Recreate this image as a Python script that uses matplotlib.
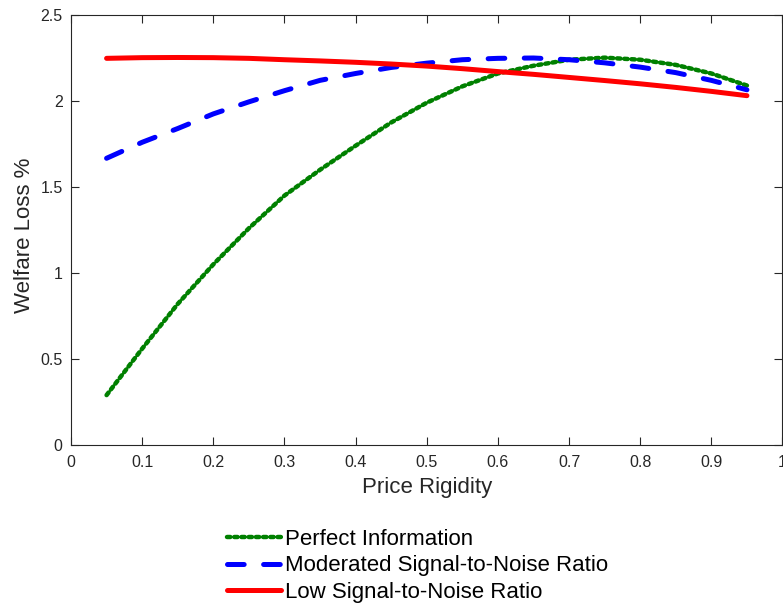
import matplotlib
matplotlib.use("Agg")
import matplotlib.pyplot as plt

rigidity = [0.05, 0.10, 0.15, 0.20, 0.25, 0.30, 0.35, 0.40, 0.45, 0.50,
            0.55, 0.60, 0.65, 0.70, 0.75, 0.80, 0.85, 0.90, 0.95]
perfect_info = [0.29, 0.56, 0.82, 1.05, 1.26, 1.45, 1.60, 1.74, 1.875, 1.99,
                2.085, 2.16, 2.205, 2.24, 2.252, 2.24, 2.21, 2.16, 2.09]
moderate_snr = [1.667, 1.76, 1.84, 1.925, 1.995, 2.06, 2.12, 2.16, 2.195, 2.22,
                2.24, 2.248, 2.25, 2.24, 2.222, 2.197, 2.165, 2.12, 2.065]
low_snr = [2.248, 2.252, 2.253, 2.252, 2.248, 2.24, 2.233, 2.225, 2.215, 2.203,
           2.188, 2.171, 2.155, 2.137, 2.119, 2.10, 2.079, 2.056, 2.031]

labels = ["Perfect Information", "Moderated Signal-to-Noise Ratio", "Low Signal-to-Noise Ratio"]
xticks = [0, 0.1, 0.2, 0.3, 0.4, 0.5, 0.6, 0.7, 0.8, 0.9, 1]
xticklabels = ["0", "0.1", "0.2", "0.3", "0.4", "0.5", "0.6", "0.7", "0.8", "0.9", "1"]
yticks = [0, 0.5, 1, 1.5, 2, 2.5]
yticklabels = ["0", "0.5", "1", "1.5", "2", "2.5"]

plt.rcParams['font.family'] = ['Liberation Sans', 'DejaVu Sans']
plt.rcParams['lines.scale_dashes'] = False

W, H = 783, 605
fig = plt.figure(figsize=(W / 100, H / 100), dpi=100)
ax = fig.add_axes([71 / W, 1 - 445 / H, (782.5 - 71) / W, (445 - 15) / H])

l1, = ax.plot(rigidity, perfect_info, color='#008000', lw=3.2, solid_capstyle='round',
              dash_capstyle='round')
l1.set_dashes((2.4, 2.8))
l2, = ax.plot(rigidity, moderate_snr, color='#0000ff', lw=3.6, dash_capstyle='round')
l2.set_dashes((12, 14))
l3, = ax.plot(rigidity, low_snr, color='#ff0000', lw=3.6, solid_capstyle='round')

ax.set_xlim(0, 1)
ax.set_ylim(0, 2.5)
ax.set_xticks(xticks)
ax.set_xticklabels(xticklabels)
ax.set_yticks(yticks)
ax.set_yticklabels(yticklabels)
ax.tick_params(direction='in', length=6, width=0.8, color='#262626', labelcolor='#262626',
               labelsize=11.5, top=True, right=True)
ax.tick_params(axis='x', pad=7)
ax.tick_params(axis='y', pad=6)
for s in ax.spines.values():
    s.set_color('#262626')
    s.set_linewidth(0.8)

ax.set_xlabel("Price Rigidity", fontsize=16, color='#262626')
ax.set_ylabel("Welfare Loss %", fontsize=16, color='#262626')
ax.xaxis.set_label_coords((427 - 71) / (782.5 - 71), (445 - 477) / 430)
ax.yaxis.set_label_coords((35 - 71) / (782.5 - 71), (445 - 235) / 430)

fig.legend([l1, l2, l3], labels, loc='upper left',
           bbox_to_anchor=(227 / W, 1 - 529 / H), frameon=False, fontsize=16,
           handlelength=2.45, handletextpad=0.14, labelspacing=0.24, borderpad=0,
           borderaxespad=0)

fig.savefig("out.png", dpi=100)
